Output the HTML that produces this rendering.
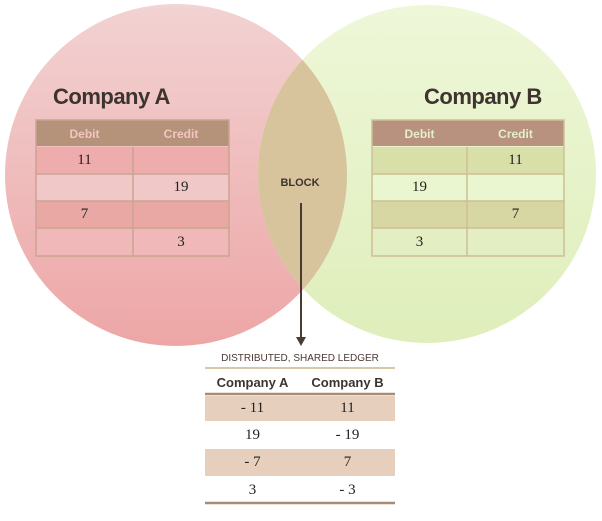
<!DOCTYPE html>
<html><head><style>
body{margin:0;width:602px;height:521px;background:#fff;overflow:hidden;position:relative;font-family:"Liberation Sans",sans-serif}
.a{position:absolute}
.t{font-weight:bold;color:#3d3430;font-size:22px;letter-spacing:-0.5px}
.n{font-family:"Liberation Serif",serif;font-size:15px;color:#222;text-align:center;position:absolute}
</style></head><body>
<svg class="a" style="left:0;top:0" width="602" height="521">
<defs>
<linearGradient id="pk" x1="0" y1="0" x2="0" y2="1"><stop offset="0" stop-color="#f2d2d2"/><stop offset="1" stop-color="#eda6a6"/></linearGradient>
<linearGradient id="gr" x1="0" y1="0" x2="0" y2="1"><stop offset="0" stop-color="#eef7d8"/><stop offset="1" stop-color="#dfeebb"/></linearGradient>
<clipPath id="cp"><circle cx="176" cy="175" r="171"/></clipPath>
</defs>
<circle cx="176" cy="175" r="171" fill="url(#pk)"/>
<circle cx="427" cy="174" r="169" fill="url(#gr)"/>
<circle cx="427" cy="174" r="169" fill="#d8c49c" clip-path="url(#cp)"/>
<!-- left table -->
<rect x="36" y="120" width="193" height="26" fill="#b5937a"/>
<rect x="36" y="147" width="193" height="27" fill="#eeacac"/>
<rect x="36" y="174" width="193" height="27" fill="#f1c8c8"/>
<rect x="36" y="201" width="193" height="27" fill="#eaa8a4"/>
<rect x="36" y="228" width="193" height="28" fill="#f0b8b8"/>
<g stroke="#c9a58f" stroke-width="1.5" fill="none"><rect x="36" y="120" width="193" height="136"/><line x1="133" y1="147" x2="133" y2="256"/><line x1="36" y1="174" x2="229" y2="174"/><line x1="36" y1="201" x2="229" y2="201"/><line x1="36" y1="228" x2="229" y2="228"/></g>
<!-- right table -->
<rect x="372" y="120" width="192" height="26" fill="#b8927e"/>
<rect x="372" y="147" width="192" height="27" fill="#d9dfa8"/>
<rect x="372" y="174" width="192" height="27" fill="#eaf6cf"/>
<rect x="372" y="201" width="192" height="27" fill="#d6d7a2"/>
<rect x="372" y="228" width="192" height="28" fill="#e3efc2"/>
<g stroke="#cdbf95" stroke-width="1.5" fill="none"><rect x="372" y="120" width="192" height="136"/><line x1="467" y1="147" x2="467" y2="256"/><line x1="372" y1="174" x2="564" y2="174"/><line x1="372" y1="201" x2="564" y2="201"/><line x1="372" y1="228" x2="564" y2="228"/></g>
<!-- arrow -->
<line x1="301" y1="203" x2="301" y2="338" stroke="#4a3a34" stroke-width="2"/>
<polygon points="296,337 306,337 301,346" fill="#4a3a34"/>
<!-- ledger -->
<line x1="205" y1="368" x2="395" y2="368" stroke="#c9b58a" stroke-width="1.5"/>
<line x1="205" y1="394" x2="395" y2="394" stroke="#a88c76" stroke-width="2.5"/>
<rect x="205" y="396" width="190" height="25" fill="#e6cfbc"/>
<rect x="205" y="449" width="190" height="27" fill="#e6cfbc"/>
<line x1="205" y1="503" x2="395" y2="503" stroke="#a88c76" stroke-width="2.5"/>
</svg>
<div class="a t" style="left:53px;top:84px">Company A</div>
<div class="a t" style="left:424px;top:84px">Company B</div>
<div class="a" style="left:36px;top:127px;width:97px;text-align:center;color:#f3c4c0;font-weight:bold;font-size:12px">Debit</div>
<div class="a" style="left:133px;top:127px;width:96px;text-align:center;color:#f3c4c0;font-weight:bold;font-size:12px">Credit</div>
<div class="a" style="left:372px;top:127px;width:95px;text-align:center;color:#e4efc8;font-weight:bold;font-size:12px">Debit</div>
<div class="a" style="left:467px;top:127px;width:97px;text-align:center;color:#e4efc8;font-weight:bold;font-size:12px">Credit</div>
<div class="n" style="left:36px;top:152px;width:97px">11</div>
<div class="n" style="left:133px;top:179px;width:96px">19</div>
<div class="n" style="left:36px;top:206px;width:97px">7</div>
<div class="n" style="left:133px;top:234px;width:96px">3</div>
<div class="n" style="left:467px;top:152px;width:97px">11</div>
<div class="n" style="left:372px;top:179px;width:95px">19</div>
<div class="n" style="left:467px;top:206px;width:97px">7</div>
<div class="n" style="left:372px;top:234px;width:95px">3</div>
<div class="a" style="left:270px;top:177px;width:60px;text-align:center;font-weight:bold;font-size:11px;color:#3d3430">BLOCK</div>
<div class="a" style="left:205px;top:353px;width:190px;text-align:center;font-size:10px;color:#4a3a34">DISTRIBUTED, SHARED LEDGER</div>
<div class="a" style="left:205px;top:375px;width:95px;text-align:center;font-weight:bold;font-size:13px;color:#3d3430">Company A</div>
<div class="a" style="left:300px;top:375px;width:95px;text-align:center;font-weight:bold;font-size:13px;color:#3d3430">Company B</div>
<div class="n" style="left:205px;top:400px;width:95px">- 11</div>
<div class="n" style="left:300px;top:400px;width:95px">11</div>
<div class="n" style="left:205px;top:427px;width:95px">19</div>
<div class="n" style="left:300px;top:427px;width:95px">- 19</div>
<div class="n" style="left:205px;top:454px;width:95px">- 7</div>
<div class="n" style="left:300px;top:454px;width:95px">7</div>
<div class="n" style="left:205px;top:482px;width:95px">3</div>
<div class="n" style="left:300px;top:482px;width:95px">- 3</div>
</body></html>
